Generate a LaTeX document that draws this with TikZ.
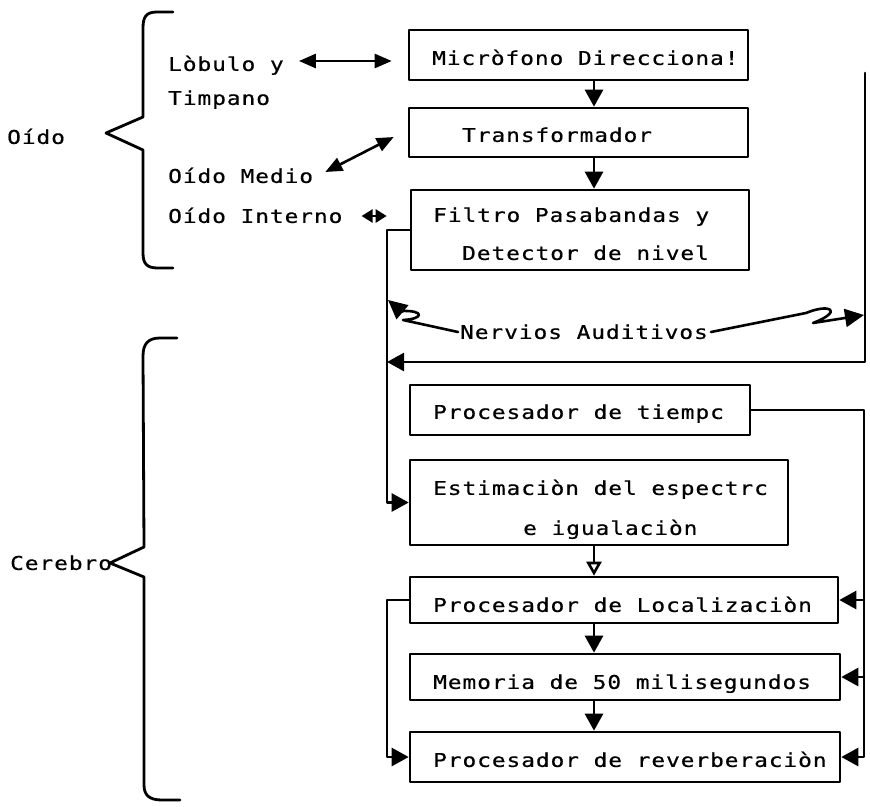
\documentclass[tikz,border=0pt]{standalone}
\usepackage{fontspec}
\setmainfont{DejaVu Sans Mono}[FakeStretch=1.2, LetterSpace=5, FakeBold=0.6]
\usetikzlibrary{arrows.meta}
\begin{document}
\begin{tikzpicture}[x=1pt,y=-1pt,
  line cap=round, line join=round,
  box/.style={draw, line width=2.6pt, inner sep=0pt, minimum width=#1},
  lbl/.style={anchor=west, inner sep=0pt, text height=13.8pt, text depth=0pt, font=\fontsize{19}{23}\selectfont},
  arr/.style={line width=2.6pt, -{Triangle[length=17pt,width=18pt]}},
  harr/.style={line width=2.6pt, -{Triangle[open,length=14pt,width=15pt,line width=2.6pt]}},
  dbl/.style={line width=2.6pt, {Triangle[length=17pt,width=14pt]}-{Triangle[length=17pt,width=14pt]}},
  sdbl/.style={line width=2.6pt, {Triangle[length=11pt,width=13pt]}-{Triangle[length=11pt,width=13pt]}},
  brk/.style={line width=2.8pt},
  nerve/.style={line width=2.6pt, -{Triangle[length=19pt,width=18pt]}}
]
\useasboundingbox (0,0) rectangle (870,806);

% --- processing blocks ---
\node[box=339pt, minimum height=50pt] (mic)   at (578.5,55)  {};
\node[box=339pt, minimum height=49pt] (trans) at (578.5,132.5) {};
\node[box=338pt, minimum height=80pt] (filt)  at (580,230)   {};
\node[box=340pt, minimum height=50pt] (tiem)  at (580,410)   {};
\node[box=378pt, minimum height=85pt] (est)   at (599,502.5) {};
\node[box=428pt, minimum height=46pt] (loc)   at (624,600)   {};
\node[box=430pt, minimum height=46pt] (mem)   at (625,677)   {};
\node[box=430pt, minimum height=50pt] (rev)   at (625,757)   {};

% --- block texts ---
\node[lbl] (tmic)   at (432,58)  {Micròfono Direcciona!};
\node[lbl] (ttrans) at (462,135) {Transformador};
\node[lbl] (tfilt1) at (433,215) {Filtro Pasabandas y};
\node[lbl] (tfilt2) at (462,253) {Detector de nivel};
\node[lbl] (ttiem)  at (433,412) {Procesador de tiempc};
\node[lbl] (test1)  at (433,488) {Estimaciòn del espectrc};
\node[lbl] (test2)  at (523,528) {e igualaciòn};
\node[lbl] (tloc)   at (433,605) {Procesador de Localizaciòn};
\node[lbl] (tmem)   at (433,682) {Memoria de 50 milisegundos};
\node[lbl] (trev)   at (433,760) {Procesador de reverberaciòn};

% --- anatomy labels ---
\node[lbl] (oido)  at (7,137)   {Oído};
\node[lbl] (cer)   at (10,563)  {Cerebro};
\node[lbl] (lob)   at (168,64)  {Lòbulo y};
\node[lbl] (tim)   at (168,98)  {Timpano};
\node[lbl] (med)   at (168,176) {Oído Medio};
\node[lbl] (int)   at (168,216) {Oído Interno};
\node[lbl] (nerv)  at (460,332) {Nervios Auditivos};

% --- braces ---
\draw[brk] (173,12) -- (157,12) .. controls (146,12) and (143,17) .. (143,28)
  -- (143,117) -- (106,133) -- (143,150) -- (143,253)
  .. controls (143,264) and (147,268) .. (158,268) -- (173,268);
\draw[brk] (177,338) -- (160,338) .. controls (148,338) and (143,344) .. (143,356)
  -- (144,547) -- (110,563) -- (144,577) -- (144,785)
  .. controls (144,795) and (149,800) .. (162,800) -- (180,800);

% --- helper coordinates for buses ---
\coordinate (ax)    at (594,0);
\coordinate (lbus)  at (387,300);
\coordinate (lbus2) at (387,650);
\coordinate (rtop)  at (865,73);
\coordinate (rbot)  at (865,362);
\coordinate (rb)    at (864,0);

% --- main chain ---
\draw[arr] (mic.south -| ax) -- (trans.north -| ax);
\draw[arr] (trans.south -| ax) -- (filt.north -| ax);
\draw[harr] (est.south -| ax) -- (loc.north -| ax);
\draw[arr] (loc.south -| ax) -- (mem.north -| ax);
\draw[arr] (mem.south -| ax) -- (rev.north -| ax);

% --- buses ---
\draw[arr] (filt.west) -| (lbus) |- (est.west);
\draw[arr] (rtop) -- (rbot) -- (rbot -| lbus);
\draw[arr] (tiem.east) -| (rev.east -| rb) -- (rev.east);
\draw[arr] (loc.east -| rb) -- (loc.east);
\draw[arr] (mem.east -| rb) -- (mem.east);
\draw[arr] (loc.west) -| (lbus2) |- (rev.west);

% --- ear to block links ---
\draw[dbl] ([xshift=15pt,yshift=3pt]lob.east) -- ([xshift=-16pt,yshift=-6pt]mic.west);
\draw[dbl] ([xshift=12pt,yshift=4pt]med.east) -- ([xshift=-14pt,yshift=-4.5pt]trans.west);
\draw[sdbl] ([xshift=19pt]int.east) -- ([xshift=-23pt]int.east -| filt.west);

% --- auditory nerves ---
\coordinate (nl1) at (403,320);
\coordinate (nl2) at (401,311);
\coordinate (nl3) at (388,300);
\draw[nerve] ([xshift=-2pt]nerv.west) -- (nl1) .. controls (424,319) and (425,310) .. (nl2) -- (nl3);
\coordinate (nr1) at (806,313);
\coordinate (nr2) at (813,323);
\coordinate (nr3) at (864,315);
\draw[nerve] ([xshift=3pt]nerv.east) -- (nr1) .. controls (830,303) and (844,311) .. (nr2) -- (nr3);
\end{tikzpicture}
\end{document}
